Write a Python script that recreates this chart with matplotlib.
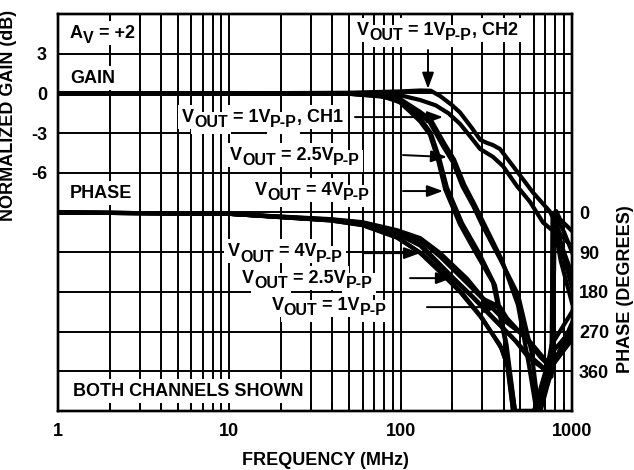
import matplotlib
matplotlib.use("Agg")
import matplotlib.pyplot as plt

plt.rcParams["font.family"] = ["Liberation Sans", "DejaVu Sans"]
plt.rcParams["font.weight"] = "bold"
plt.rcParams["font.size"] = 13

# gain curves: frequency (MHz) and normalized gain (dB), both channels
g_f_1v_ch2 = [1, 10, 50, 100, 130, 150, 170, 200, 222, 260, 291, 320, 345, 380, 453, 593, 740, 776, 810, 850, 1000]
g_db_1v_ch2 = [0, 0, 0.05, 0.15, 0.22, 0.2, -0.2, -0.9, -1.44, -2.6, -3.5, -3.75, -3.9, -4.2, -5.5, -7.5, -8.9, -9.4, -8.9, -9.5, -10.4]
g_f_1v_ch1 = [1, 10, 50, 80, 100, 130, 160, 190, 222, 260, 291, 346, 396, 477, 569, 677, 760, 800, 850, 1000]
g_db_1v_ch1 = [0, 0, -0.02, -0.08, -0.15, -0.5, -0.9, -1.5, -2.3, -3.4, -4.2, -4.8, -5.5, -7.0, -8.2, -9.75, -10.3, -9.8, -10.6, -11.6]
g_f_2v5_ch1 = [1, 10, 50, 76, 100, 130, 148, 177, 202, 229, 265, 298, 380, 484, 580, 640, 655, 776, 1000]
g_db_2v5_ch1 = [0, 0, -0.03, -0.23, -0.53, -1.59, -2.19, -4.0, -5.2, -7.0, -8.5, -9.9, -12.5, -15.2, -19.5, -24, -24, -20.5, -17.5]
g_f_2v5_ch2 = [1, 10, 50, 76, 100, 130, 150, 180, 205, 235, 270, 300, 390, 484, 560, 620, 640, 760, 1000]
g_db_2v5_ch2 = [0, 0, -0.03, -0.2, -0.45, -1.4, -2.0, -3.8, -5.0, -6.9, -8.4, -9.6, -12.6, -16, -20.5, -24, -24, -19, -16.5]
g_f_4v_ch1 = [1, 10, 50, 76, 99, 113, 130, 148, 165, 182, 222, 279, 346, 406, 453, 520, 609, 700, 775, 1000]
g_db_4v_ch1 = [0, 0, -0.02, -0.15, -0.68, -1.36, -2.12, -3.1, -5.0, -7.26, -9.9, -12.2, -14.3, -18.6, -24, -24, -24, -22, -20.5, -18.6]
g_f_4v_ch2 = [1, 10, 50, 76, 100, 115, 132, 150, 168, 186, 228, 285, 355, 415, 465, 530, 600, 700, 775, 1000]
g_db_4v_ch2 = [0, 0, -0.02, -0.12, -0.6, -1.3, -2.0, -3.0, -4.9, -7.1, -9.8, -12.0, -14.5, -19, -24, -24, -24, -21, -19.5, -17.8]

# phase curves: frequency (MHz) and phase lag (degrees)
p_f_1v_ch1 = [1, 10, 39, 60, 95, 130, 170, 244, 300, 380, 418, 547, 651, 776, 790, 900, 1000]
p_deg_1v_ch1 = [0, 3, 16, 23, 42, 62, 100, 160, 195, 214, 240, 289, 327, 357, 0, 45, 90]
p_f_1v_ch2 = [1, 10, 39, 60, 95, 130, 170, 244, 319, 418, 547, 651, 740, 800, 900, 1000]
p_deg_1v_ch2 = [0, 3, 15, 22, 40, 58, 92, 150, 205, 250, 285, 320, 345, 330, 300, 275]
p_f_2v5_ch1 = [1, 10, 39, 60, 95, 130, 199, 260, 346, 453, 547, 651, 716, 760, 775, 880, 1000]
p_deg_2v5_ch1 = [0, 3, 17, 26, 48, 75, 148, 190, 240, 285, 320, 345, 360, 372, 5, 80, 140]
p_f_2v5_ch2 = [1, 10, 39, 60, 95, 130, 205, 270, 360, 470, 560, 660, 740, 800, 900, 1000]
p_deg_2v5_ch2 = [0, 3, 17, 25, 46, 72, 150, 195, 245, 292, 330, 350, 368, 335, 290, 250]
p_f_4v_ch1 = [1, 10, 39, 60, 95, 130, 170, 222, 291, 380, 418, 453, 520, 600, 716, 776, 790, 880, 1000]
p_deg_4v_ch1 = [0, 3, 18, 28, 55, 92, 135, 180, 235, 300, 345, 450, 450, 450, 380, 355, 0, 90, 170]
p_f_4v_ch2 = [1, 10, 39, 60, 95, 135, 175, 230, 300, 390, 430, 465, 530, 610, 700, 760, 770, 860, 1000]
p_deg_4v_ch2 = [0, 3, 18, 29, 57, 95, 138, 184, 240, 310, 360, 450, 450, 450, 400, 365, 10, 110, 205]

x_ticks = [1, 10, 100, 1000]
x_tick_labels = ["1", "10", "100", "1000"]
gain_ticks = [-24, -21, -18, -15, -12, -9, -6, -3, 0, 3, 6]
gain_tick_labels = ["", "", "", "", "", "", "-6", "-3", "0", "3", ""]
phase_ticks = [0, 90, 180, 270, 360]
phase_tick_labels = ["0", "90", "180", "270", "360"]

gain_curves = [
    (g_f_1v_ch2, g_db_1v_ch2), (g_f_1v_ch1, g_db_1v_ch1),
    (g_f_2v5_ch1, g_db_2v5_ch1), (g_f_2v5_ch2, g_db_2v5_ch2),
    (g_f_4v_ch1, g_db_4v_ch1), (g_f_4v_ch2, g_db_4v_ch2),
]
phase_curves = [
    (p_f_1v_ch1, p_deg_1v_ch1), (p_f_1v_ch2, p_deg_1v_ch2),
    (p_f_2v5_ch1, p_deg_2v5_ch1), (p_f_2v5_ch2, p_deg_2v5_ch2),
    (p_f_4v_ch1, p_deg_4v_ch1), (p_f_4v_ch2, p_deg_4v_ch2),
]

fig = plt.figure(figsize=(6.34, 4.70), dpi=100)
ax = fig.add_axes([58 / 634, 1 - 411 / 470, 514 / 634, 397 / 470])
ax.set_xscale("log")
ax.set_xlim(1, 1000)
ax.set_ylim(-24, 6)
ax.set_axisbelow(True)

for f, g in gain_curves:
    ax.plot(f, g, color="black", lw=3.0, solid_joinstyle="round")

ax.set_xticks(x_ticks)
ax.set_xticklabels(x_tick_labels)
ax.set_yticks(gain_ticks)
ax.set_yticklabels(gain_tick_labels)
ax.grid(which="both", color="black", lw=1.4)
ax.tick_params(axis="x", which="both", direction="in", length=6, width=1.4,
               top=True, bottom=True, pad=9)
ax.tick_params(axis="y", which="both", length=0, pad=8)
for s in ax.spines.values():
    s.set_linewidth(1.7)

ax.set_xlabel("FREQUENCY (MHz)", fontsize=13, fontweight="bold")
ax.xaxis.set_label_coords(0.521, -0.104)
ax.set_ylabel("NORMALIZED GAIN (dB)", fontsize=13, fontweight="bold")
ax.yaxis.set_label_coords(-0.08, 0.745)

# phase on a second axis, degrees increasing downward
ax2 = ax.twinx()
ax2.set_ylim(450, -450)
for f, p in phase_curves:
    ax2.plot(f, p, color="black", lw=3.0, solid_joinstyle="round")
ax2.set_yticks(phase_ticks)
ax2.set_yticklabels(phase_tick_labels)
ax2.tick_params(axis="y", length=0, pad=5)
ax2.set_ylabel("PHASE (DEGREES)", fontsize=13, fontweight="bold", rotation=90)
ax2.yaxis.set_label_coords(1.087, 0.307)
for s in ax2.spines.values():
    s.set_linewidth(1.7)

box = dict(facecolor="white", edgecolor="none", boxstyle="square,pad=0.2")
arrow = dict(arrowstyle="-|>,head_length=0.6,head_width=0.22", color="black",
             lw=1.4, mutation_scale=16, shrinkA=0, shrinkB=0)


def label(x, y, parts, tail=None, tip=None):
    # parts alternate normal text and subscript text;
    # white boxes go in one layer, the black glyphs on top of them
    first = ax2.text(x, y, parts[0], transform=ax.transData, ha="left",
                     va="center", fontsize=13, fontweight="bold", color="white",
                     bbox=box, zorder=5)
    pieces = [(first, 13)]
    prev = first
    for i, s in enumerate(parts[1:]):
        sub = i % 2 == 0
        size = 11.5 if sub else 13
        prev = ax2.annotate(s, xy=(1, 0), xycoords=(prev, first),
                            xytext=(0, -3.5 if sub else 0), textcoords="offset points",
                            ha="left", va="bottom", fontsize=size,
                            fontweight="bold", color="white", bbox=box, zorder=5)
        pieces.append((prev, size))
    for p, size in pieces:
        ax2.annotate(p.get_text(), xy=(0, 0), xycoords=p, ha="left", va="bottom",
                     fontsize=size, fontweight="bold", color="black", zorder=6)
    if tail is not None:
        ax2.annotate("", xy=tip, xytext=tail, xycoords=ax.transData,
                     textcoords=ax.transData, arrowprops=arrow, zorder=6)


label(1.175, 4.56, ["A", "V", " = +2"])
label(1.175, 1.16, ["GAIN"])
label(1.175, -7.53, ["PHASE"])
label(1.224, -22.5, ["BOTH CHANNELS SHOWN"])
label(55.6, 4.79, ["V", "OUT", " = 1V", "P-P", ", CH2"], (144.4, 3.28), (144.4, 0.35))
label(5.29, -1.79, ["V", "OUT", " = 1V", "P-P", ", CH1"], (54.1, -1.79), (176.6, -1.79))
label(10.09, -4.66, ["V", "OUT", " = 2.5V", "P-P"], (103.2, -4.66), (186.4, -4.81))
label(14.1, -7.30, ["V", "OUT", " = 4V", "P-P"], (103.2, -7.38), (176.6, -7.38))
label(9.82, -11.92, ["V", "OUT", " = 4V", "P-P"], (60.3, -12.07), (129.7, -12.07))
label(11.9, -13.96, ["V", "OUT", " = 2.5V", "P-P"], (113.4, -13.96), (199.3, -13.96))
label(17.7, -16.0, ["V", "OUT", " = 1V", "P-P"], (142.4, -16.15), (380, -16.15))

fig.savefig("out.png", dpi=100)
